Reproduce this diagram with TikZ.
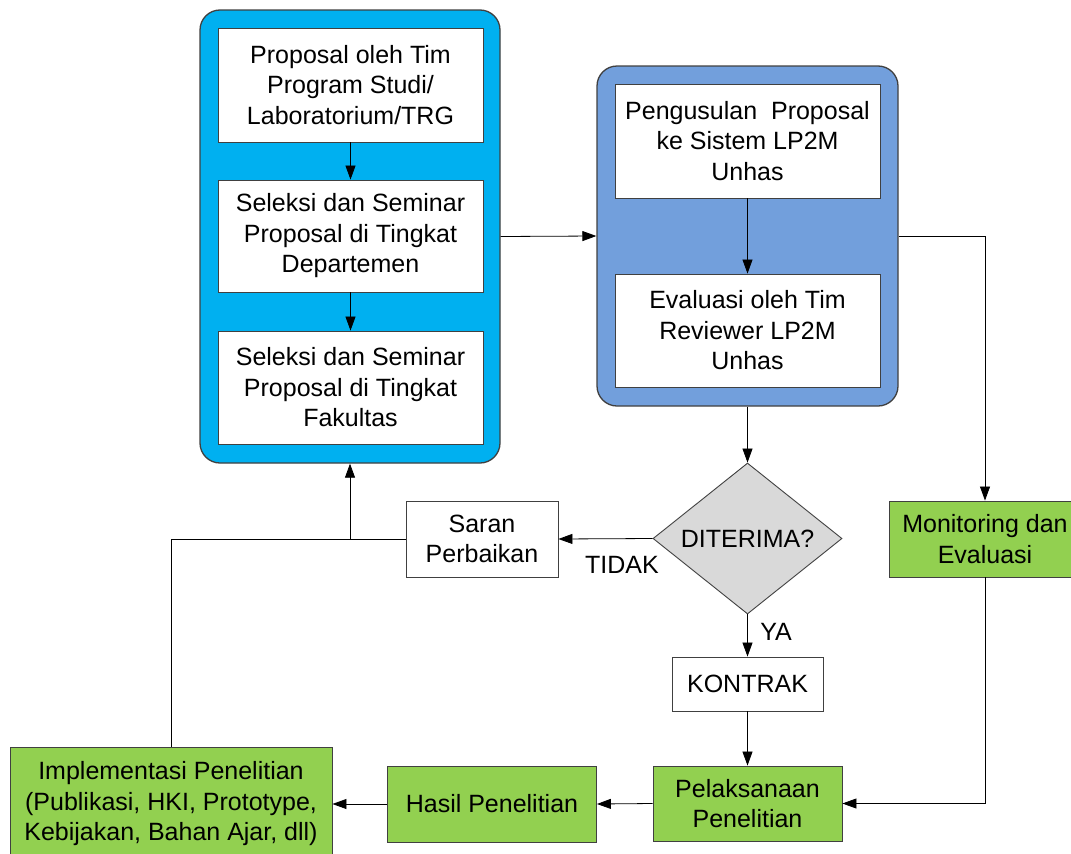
\documentclass[tikz,border=0pt]{standalone}
\usepackage{fontspec}
\setmainfont{Liberation Sans}
\usetikzlibrary{arrows.meta,shapes.geometric}
\definecolor{cyanbox}{RGB}{0,176,240}
\definecolor{bluebox}{RGB}{114,159,220}
\definecolor{greenbox}{RGB}{146,208,80}
\definecolor{greybox}{RGB}{217,217,217}
\definecolor{edge}{RGB}{64,64,64}
\begin{document}
\begin{tikzpicture}[x=1pt,y=-1pt,
  every node/.style={font=\fontsize{25}{30.5}\selectfont, align=center, inner sep=0pt},
  group/.style={draw=edge, line width=1.3pt, rounded corners=20pt},
  whitebox/.style={draw=edge, line width=0.9pt, fill=white},
  greenstep/.style={draw=edge, line width=0.9pt, fill=greenbox},
  flow/.style={draw=black, line width=0.8pt, -{Triangle[length=14pt,width=10pt]}},
  link/.style={draw=black, line width=0.8pt}]
\useasboundingbox (0,0) rectangle (1071,854);
\clip (0,0) rectangle (1071,854);

% left group: proposal and internal selection
\node[group, fill=cyanbox, minimum width=300pt, minimum height=453pt] (grpA) at (350,236.5) {};
\node[whitebox, minimum width=265pt, minimum height=114pt] (b1) at (350.5,85) {Proposal oleh Tim\\Program Studi/\\Laboratorium/TRG};
\node[whitebox, minimum width=265pt, minimum height=112pt] (b2) at (350.5,236) {Seleksi dan Seminar\\Proposal di Tingkat\\Departemen};
\node[whitebox, minimum width=265pt, minimum height=113pt] (b3) at (350.5,387.5) {Seleksi dan Seminar\\Proposal di Tingkat\\Fakultas};

% right group: submission and review at LP2M
\node[group, fill=bluebox, minimum width=301pt, minimum height=340pt] (grpB) at (747.5,236) {};
\node[whitebox, minimum width=265pt, minimum height=114pt] (b4) at (747.5,141) {Pengusulan~ Proposal\\ke Sistem LP2M\\Unhas};
\node[whitebox, minimum width=265pt, minimum height=113pt] (b5) at (747.5,330.5) {Evaluasi oleh Tim\\Reviewer LP2M\\Unhas};

% decision and follow-up
\node[diamond, draw=edge, line width=0.9pt, fill=greybox, minimum width=189pt, minimum height=151pt] (dec) at (747.5,538.5) {DITERIMA?};
\node[whitebox, minimum width=152pt, minimum height=76pt] (saran) at (482,539) {Saran\\Perbaikan};
\node[whitebox, minimum width=151pt, minimum height=54pt] (kontrak) at (747.5,684) {KONTRAK};
\node[greenstep, minimum width=192pt, minimum height=76pt] (mon) at (985,539) {Monitoring dan\\Evaluasi};
\node[greenstep, minimum width=189pt, minimum height=75pt] (pel) at (747.5,803.5) {Pelaksanaan\\Penelitian};
\node[greenstep, minimum width=209pt, minimum height=76pt] (hasil) at (492,804) {Hasil Penelitian};
\node[greenstep, minimum width=322pt, minimum height=114pt] (impl) at (171,804) {Implementasi Penelitian\\(Publikasi, HKI, Prototype,\\Kebijakan, Bahan Ajar, dll)};

% connectors
\draw[flow] (b1) -- (b2);
\draw[flow] (b2) -- (b3);
\draw[flow] (b4) -- (b5);
\draw[flow] (grpA.east) -- (grpB.west);
\draw[flow] (grpB.south) -- (dec.north);
\draw[flow] (grpB.east) -| (mon.north);
\draw[flow] (mon.south) |- (pel.east);
\draw[flow] (dec.west) -- (saran.east);
\draw[flow] (dec.south) -- (kontrak.north);
\draw[flow] (kontrak.south) -- (pel.north);
\draw[flow] (pel.west) -- (hasil.east);
\draw[flow] (hasil.west) -- (impl.east);
\draw[link] (impl.north) |- (saran.west);
\coordinate (join) at (grpA.south |- saran.west);
\draw[flow] (join) -- (grpA.south);

% branch labels
\node (tidak) at (622,565) {TIDAK};
\node (ya) at (776,632) {YA};
\end{tikzpicture}
\end{document}
